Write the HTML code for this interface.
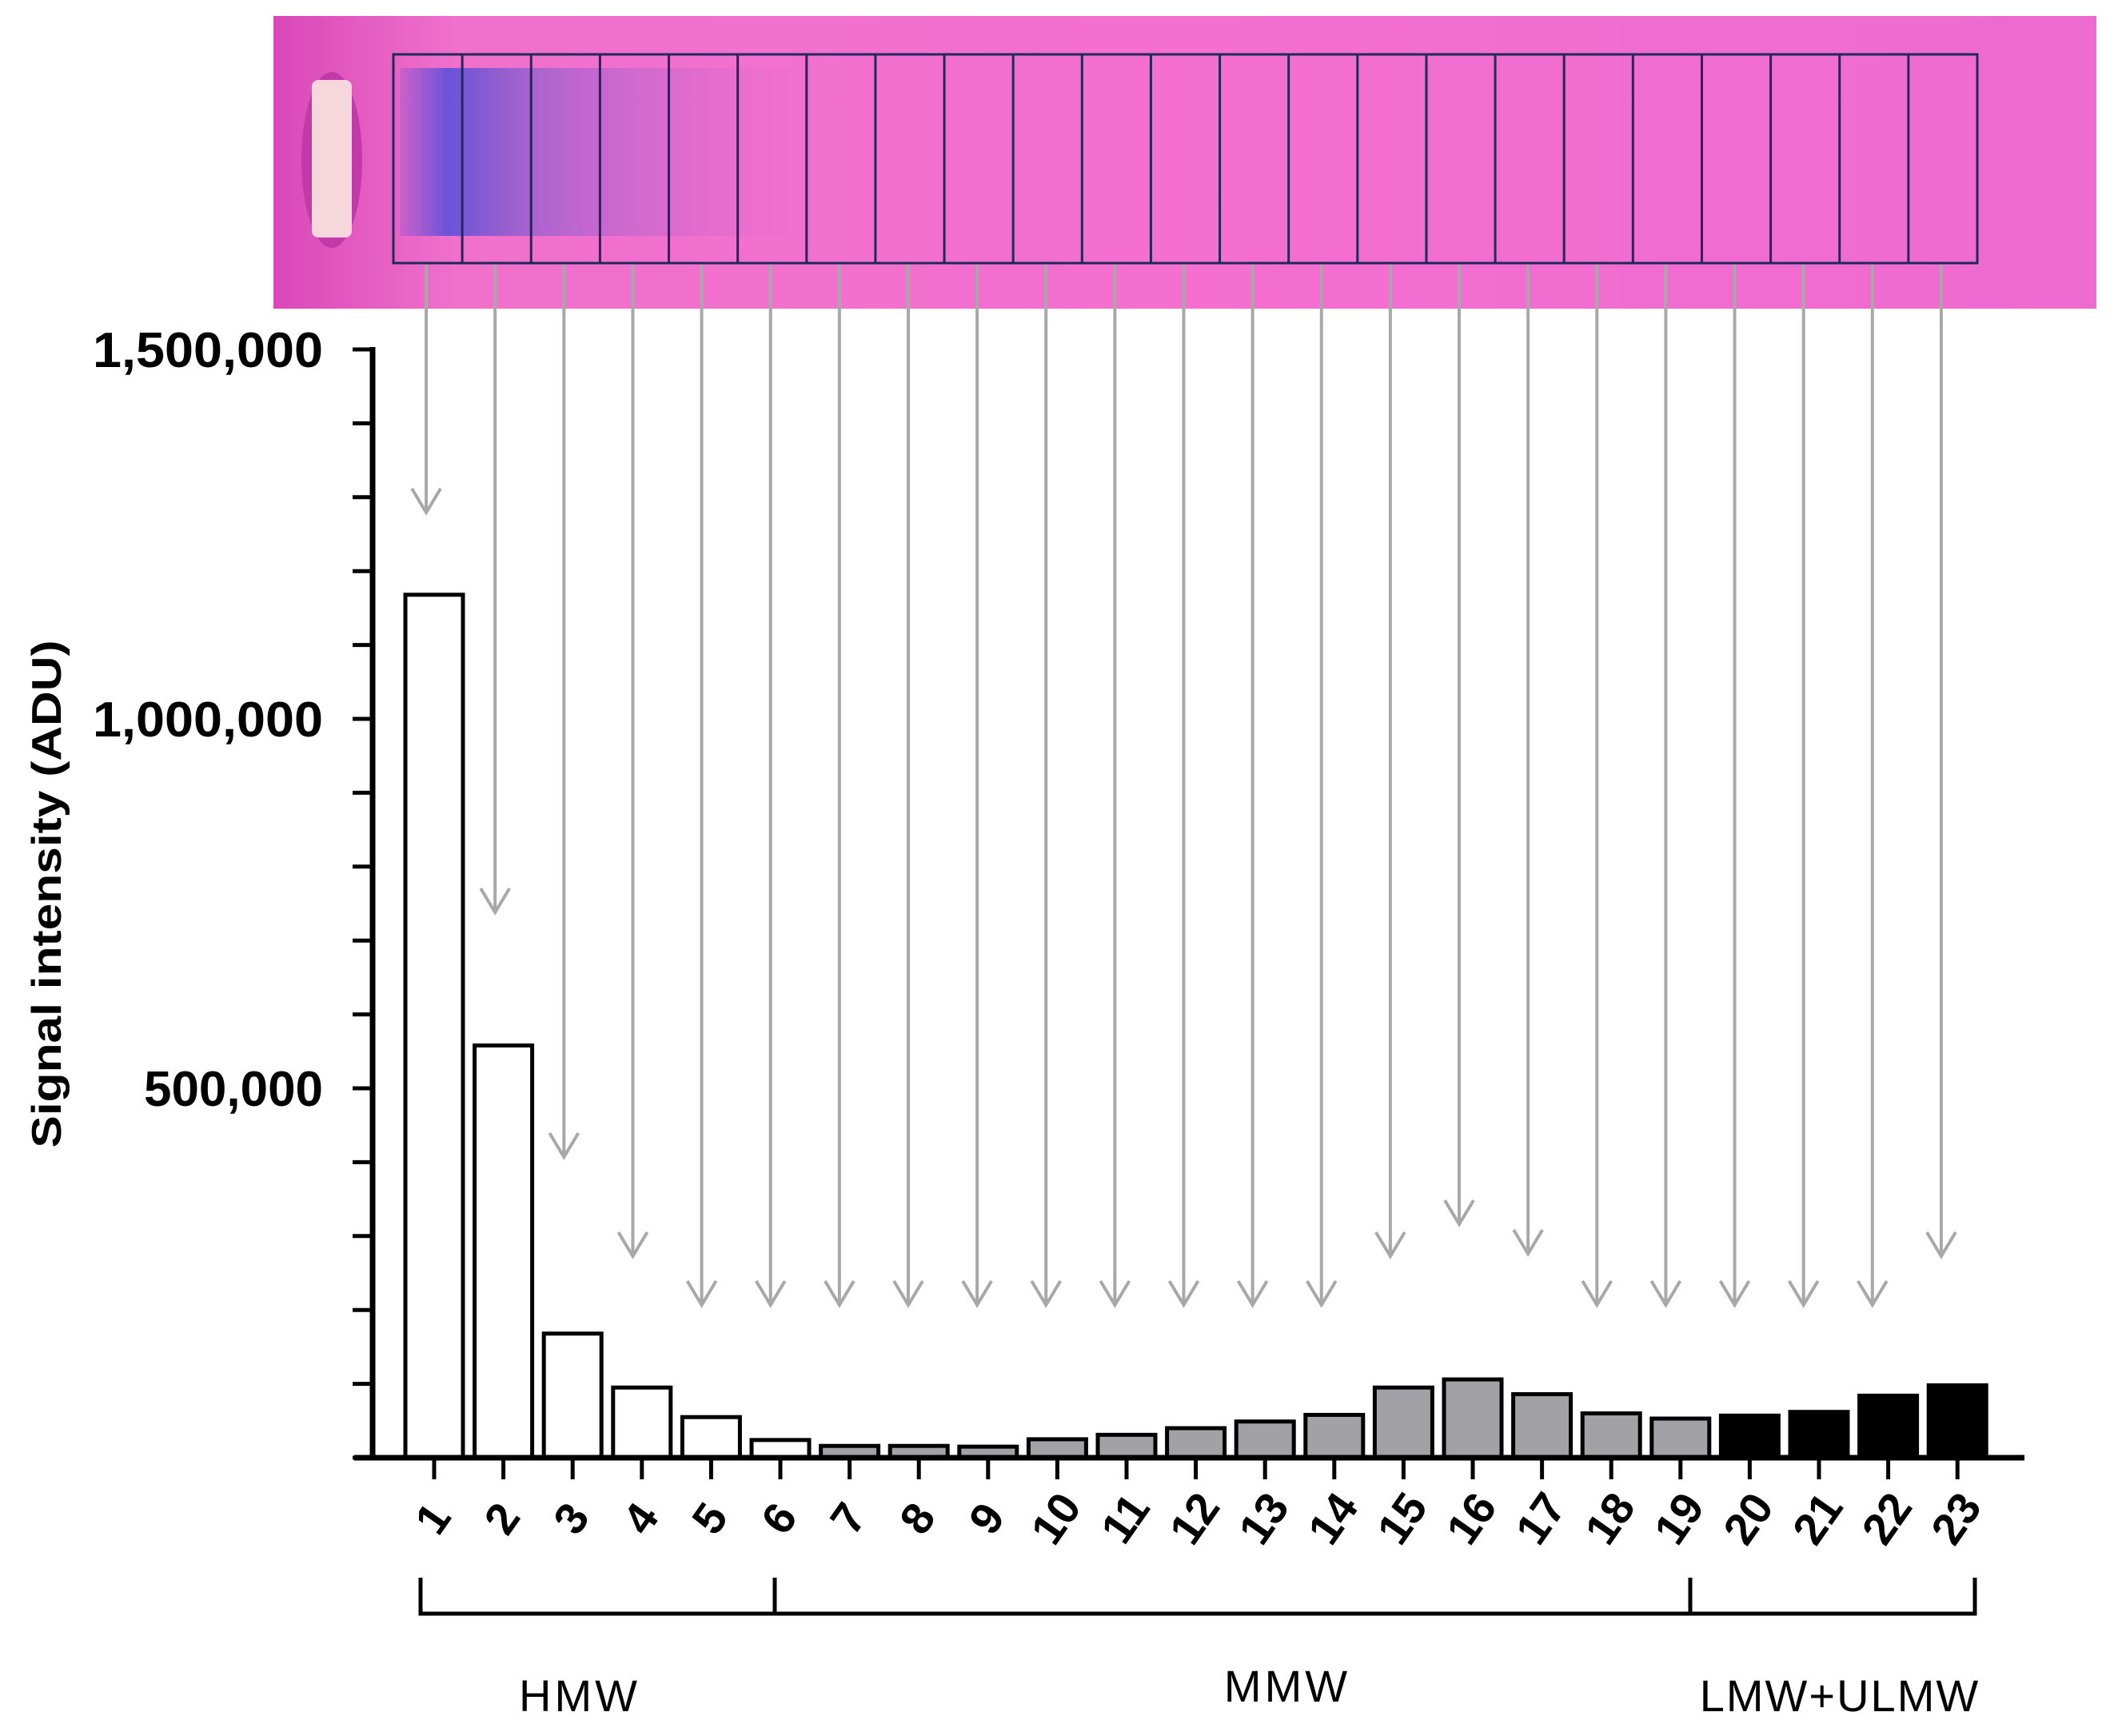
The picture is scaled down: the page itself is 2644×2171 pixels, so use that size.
<!DOCTYPE html>
<html><head><meta charset="utf-8"><style>
html,body{margin:0;padding:0;background:#fff;}
svg{display:block;}
text{font-family:"Liberation Sans",sans-serif;}
</style></head><body>
<svg id="chart" width="2644" height="2171" viewBox="0 0 2644 2171" xmlns="http://www.w3.org/2000/svg">
<defs>
<linearGradient id="gelg" x1="0" x2="1" y1="0" y2="0">
<stop offset="0" stop-color="#d948b8"/><stop offset="0.1" stop-color="#f070cc"/><stop offset="0.5" stop-color="#f46fd0"/><stop offset="1" stop-color="#ee6ad0"/>
</linearGradient>
<linearGradient id="smear" x1="0" x2="1" y1="0" y2="0">
<stop offset="0" stop-color="#5a50d8" stop-opacity="0.2"/><stop offset="0.12" stop-color="#5a50d8" stop-opacity="0.9"/><stop offset="0.35" stop-color="#7a5ad0" stop-opacity="0.55"/><stop offset="1" stop-color="#c060cc" stop-opacity="0"/>
</linearGradient>
</defs>
<g>
<rect x="342" y="20" width="2280" height="366" fill="url(#gelg)"/>
<rect x="500" y="85" width="500" height="210" fill="url(#smear)"/>
<ellipse cx="415" cy="200" rx="38" ry="110" fill="#c23aa8"/>
<rect x="390" y="100" width="50" height="197" rx="8" fill="#f6d8dc"/>
</g>
<g id="gelbox"></g>
<g id="arrows"></g>
<g id="bars"></g>
<g id="axes"></g>
<text transform="translate(76,1118) rotate(-90)" text-anchor="middle" font-size="52" font-weight="bold" textLength="635" lengthAdjust="spacingAndGlyphs">Signal intensity (ADU)</text>
<g stroke="#000" stroke-width="5" fill="none">
<path d="M526 1973 V2018 H2470 V1973 M969 1973 V2018 M2114 1973 V2018"/>
</g>
<text x="725" y="2140" text-anchor="middle" font-size="56" letter-spacing="4">HMW</text>
<text x="1610" y="2128" text-anchor="middle" font-size="56" letter-spacing="4">MMW</text>
<text x="2301" y="2140" text-anchor="middle" font-size="56" letter-spacing="2">LMW+ULMW</text>
</svg>
<script>
const categories=["1","2","3","4","5","6","7","8","9","10","11","12","13","14","15","16","17","18","19","20","21","22","23"];
const values=[1168000,558000,168000,95000,55000,24000,16000,16000,15000,25000,31000,40000,49000,58000,95000,106000,86000,60000,53000,57000,62000,84000,98000];
const groups=["HMW","HMW","HMW","HMW","HMW","HMW","MMW","MMW","MMW","MMW","MMW","MMW","MMW","MMW","MMW","MMW","MMW","MMW","MMW","LMW","LMW","LMW","LMW"];
const arrowTips=[641,1141,1447,1571,1632,1632,1632,1632,1632,1632,1632,1632,1632,1632,1571,1531,1568,1632,1632,1632,1632,1632,1571];
const yTicks=[0,500000,1000000,1500000];
const yTickLabels=["","500,000","1,000,000","1,500,000"];
const NS="http://www.w3.org/2000/svg";
const y0=1823,pxPer=462/500000;
function yS(v){return y0-v*pxPer;}
function xS(i){return 543+i*86.6;}
function mk(tag,attrs,parent){const e=document.createElementNS(NS,tag);for(const k in attrs)e.setAttribute(k,attrs[k]);parent.appendChild(e);return e;}
const fills={HMW:"#fff",MMW:"#a2a2a6",LMW:"#000"};
const bars=document.getElementById('bars');
values.forEach((v,i)=>{
 const r=mk('rect',{x:xS(i)-36,y:yS(v),width:72,height:y0-yS(v),fill:fills[groups[i]],stroke:"#000","stroke-width":5},bars);
 
 
});
const ax=document.getElementById('axes');
mk('line',{x1:466,y1:434,x2:466,y2:1825,stroke:"#000","stroke-width":7},ax);
mk('line',{x1:443,y1:1823,x2:2532,y2:1823,stroke:"#000","stroke-width":7},ax);
for(let v=0;v<=1500000;v+=100000){
 mk('line',{x1:441,y1:yS(v),x2:466,y2:yS(v),stroke:"#000","stroke-width":5},ax);
}
yTicks.forEach((v,i)=>{
 if(!yTickLabels[i])return;
 const t=mk('text',{x:404,y:yS(v)+22,"text-anchor":"end","font-size":62,"font-weight":"bold",textLength:yTickLabels[i].length*32,lengthAdjust:"spacingAndGlyphs"},ax);
 t.textContent=yTickLabels[i];
 
 
});
categories.forEach((c,i)=>{
 mk('line',{x1:xS(i),y1:1823,x2:xS(i),y2:1850,stroke:"#000","stroke-width":5},ax);
 const t=mk('text',{transform:`translate(${xS(i)+14},${1910}) rotate(-55)`,"text-anchor":"middle","font-size":56,"font-weight":"bold"},ax);
 t.textContent=c;
 
 
});
const gb=document.getElementById('gelbox');
const gx0=492,gw=(2473-492)/23;
mk('rect',{x:gx0,y:68,width:2473-492,height:261,fill:"none",stroke:"#1e2a5a","stroke-width":3},gb);
for(let i=1;i<23;i++)mk('line',{x1:gx0+i*gw,y1:68,x2:gx0+i*gw,y2:329,stroke:"#1e2a5a","stroke-width":3},gb);
const ar=document.getElementById('arrows');
arrowTips.forEach((tip,i)=>{
 const x=gx0+(i+0.5)*gw - 2;
 const p=mk('path',{d:`M${x} 331 V${tip} M${x-18} ${tip-30} L${x} ${tip} L${x+18} ${tip-30}`,stroke:"#a8a8a8","stroke-width":4,fill:"none"},ar);
 
 
});
</script>
</body></html>
